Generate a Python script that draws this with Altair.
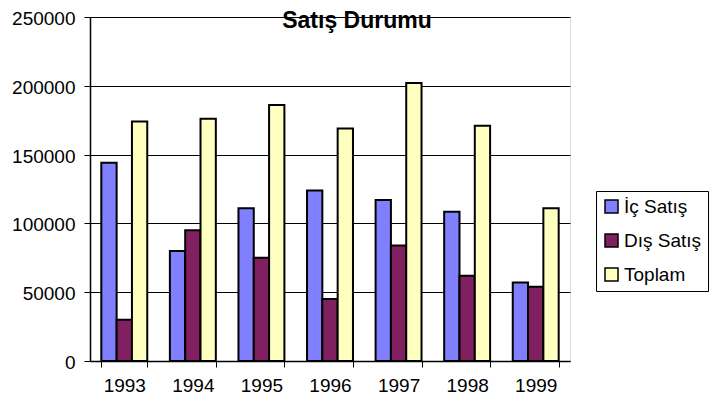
import altair as alt
import pandas as pd

years = ["1993", "1994", "1995", "1996", "1997", "1998", "1999"]
ic_satis = [144000, 80000, 111000, 124000, 117000, 108500, 57000]
dis_satis = [30000, 95000, 75000, 45000, 84000, 62000, 54000]
toplam = [174000, 176000, 186000, 169000, 202000, 171000, 111000]
series = ["İç Satış", "Dış Satış", "Toplam"]
colors = ["#8080FF", "#802060", "#FFFFC0"]
y_ticks = [0, 50000, 100000, 150000, 200000, 250000]

rows = []
for i, yr in enumerate(years):
    for s, vals in zip(series, [ic_satis, dis_satis, toplam]):
        rows.append({"Yil": yr, "Seri": s, "Deger": vals[i]})
df = pd.DataFrame(rows)

FONT = "Liberation Sans"

chart = alt.Chart(df).mark_bar(stroke="black", strokeWidth=2).encode(
    x=alt.X(
        "Yil:N", sort=years, title=None,
        scale=alt.Scale(paddingInner=0.33, paddingOuter=0.165),
        axis=alt.Axis(labelAngle=0, tickBand="extent", tickSize=6, tickColor="black",
                      domainColor="black", domainWidth=1.5, labelFontSize=19, labelPadding=9,
                      labelColor="black", labelFont=FONT, grid=False),
    ),
    xOffset=alt.XOffset("Seri:N", sort=series,
                        scale=alt.Scale(paddingInner=0, paddingOuter=0)),
    y=alt.Y(
        "Deger:Q", title=None, scale=alt.Scale(domain=[0, 250000]),
        axis=alt.Axis(values=y_ticks, format="d", grid=True, gridColor="black",
                      gridWidth=1, tickSize=6, tickColor="black", domainColor="black",
                      domainWidth=1.5, labelFontSize=19, labelFont=FONT, labelColor="black",
                      labelPadding=9, labelOffset=1.5),
    ),
    color=alt.Color(
        "Seri:N", sort=series, scale=alt.Scale(domain=series, range=colors),
        legend=alt.Legend(title=None, orient="none", legendX=506, legendY=174,
                          strokeColor="black", fillColor="white", padding=6,
                          symbolType="square", symbolSize=169,
                          symbolStrokeColor="black", symbolStrokeWidth=1.5,
                          labelFontSize=19, labelFont=FONT, labelColor="black",
                          rowPadding=14, labelOffset=3),
    ),
).properties(
    width=480,
    height=344,
    title=alt.TitleParams("Satış Durumu", font=FONT, fontSize=23, fontWeight="bold",
                          anchor="middle", dx=27, offset=-23, color="black"),
    autosize=alt.AutoSizeParams(type="none"),
    padding={"left": 82, "top": 9, "right": 139, "bottom": 35},
).configure_view(
    fill="#C0C0C0", stroke="#808080", strokeWidth=1.5
).configure(background="white")

chart.save("out.html", embed_options={"renderer": "svg", "actions": False})
